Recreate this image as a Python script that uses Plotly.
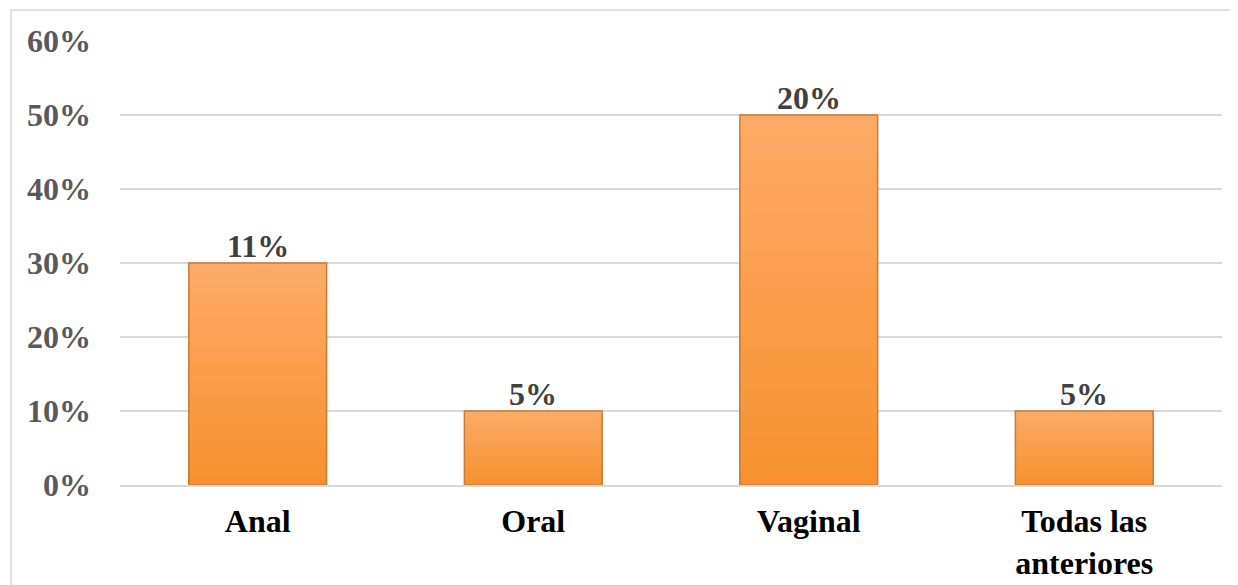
import plotly.graph_objects as go

categories = ["Anal", "Oral", "Vaginal", "Todas las<br>anteriores"]
values = [0.30, 0.10, 0.50, 0.10]
labels = ["11%", "5%", "20%", "5%"]
tick_vals = [0, 0.1, 0.2, 0.3, 0.4, 0.5, 0.6]
tick_text = ["0%", "10%", "20%", "30%", "40%", "50%", "60%"]

FONT = "Liberation Serif, Times New Roman, serif"
TOP = (253, 171, 104)
BOTTOM = (247, 145, 46)
N_SEG = 30

fig = go.Figure()

# vertical gradient fill: nested bars, tallest (lightest) first, each shorter one darker
for k in range(N_SEG):
    frac = (N_SEG - k) / N_SEG
    t = (N_SEG - k - 0.5) / N_SEG
    c = tuple(round(BOTTOM[i] + (TOP[i] - BOTTOM[i]) * t) for i in range(3))
    fig.add_trace(go.Bar(
        x=categories,
        y=[v * frac for v in values],
        width=0.5,
        marker=dict(color="rgb(%d,%d,%d)" % c, line=dict(width=0)),
        hoverinfo="skip",
    ))

# outline
fig.add_trace(go.Bar(
    x=categories,
    y=values,
    width=0.5,
    marker=dict(color="rgba(0,0,0,0)", line=dict(color="#C97A34", width=1.5)),
    hoverinfo="skip",
))

annotations = [
    dict(x=c, y=v, text=l, showarrow=False, yanchor="bottom", yshift=-3,
         font=dict(family=FONT, size=32, color="#404040", weight="bold"))
    for c, v, l in zip(categories, values, labels)
]

fig.update_layout(
    width=1238,
    height=585,
    margin=dict(l=112, r=24, t=33, b=106),
    paper_bgcolor="white",
    plot_bgcolor="white",
    showlegend=False,
    barmode="overlay",
    annotations=annotations,
    shapes=[dict(
        type="rect", xref="paper", yref="paper",
        x0=-0.0989, x1=1.03, y0=-0.3, y1=1.0701,
        line=dict(color="#D9D9D9", width=1.5), fillcolor="rgba(0,0,0,0)",
        layer="below",
    )],
)

fig.update_yaxes(
    range=[0, 0.6],
    tickvals=tick_vals,
    ticktext=tick_text,
    showgrid=True,
    gridcolor="#D9D9D9",
    gridwidth=1.5,
    zeroline=False,
    showline=False,
    ticks="",
    ticklabelstandoff=28,
    tickfont=dict(family=FONT, size=32, color="#595959", weight="bold"),
)
fig.update_xaxes(
    showline=True,
    linecolor="#D9D9D9",
    linewidth=1.5,
    ticks="",
    ticklabelstandoff=7,
    tickfont=dict(family=FONT, size=32, color="#000000", weight="bold"),
)

fig.write_html("out.html")
